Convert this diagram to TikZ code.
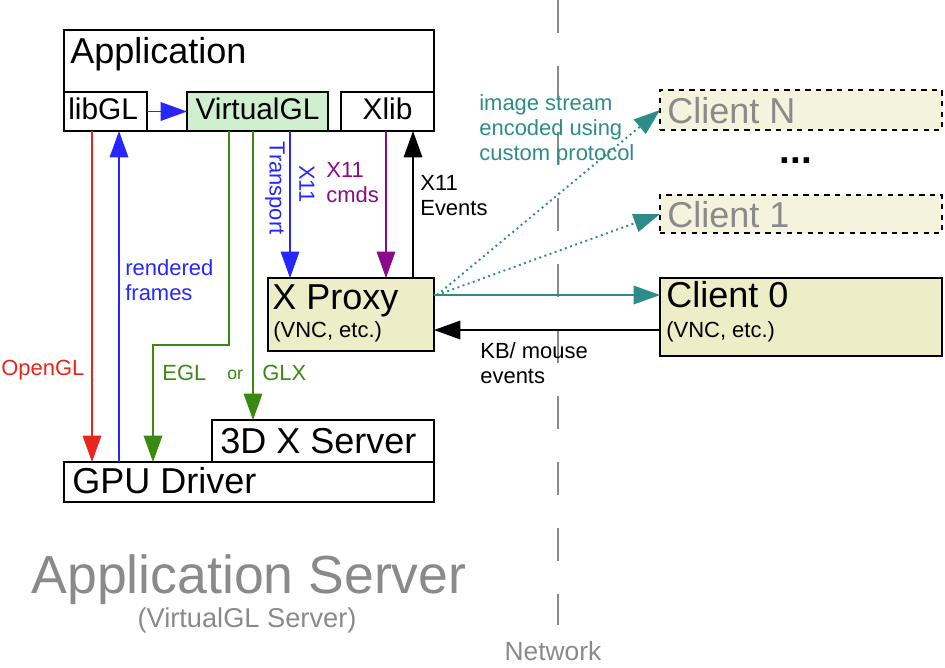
\documentclass[tikz,border=0pt]{standalone}
\usepackage{fontspec}
\setmainfont{Liberation Sans}
\usepackage{xcolor}
\usetikzlibrary{positioning,arrows.meta,calc}
\definecolor{croja}{HTML}{E8261E}
\definecolor{cazul}{HTML}{2626FF}
\definecolor{cverde}{HTML}{3A8A12}
\definecolor{cmorado}{HTML}{8A0A8A}
\definecolor{cteal}{HTML}{2E8C88}
\definecolor{cgris}{HTML}{8A8A8A}
\definecolor{cbeige}{HTML}{EDEDC8}
\definecolor{cbeigec}{HTML}{F4F4DE}
\definecolor{cvgl}{HTML}{CFEFCF}
\tikzset{
  caja/.style={rectangle, draw=black, line width=1.1pt, fill=white, inner sep=0pt, outer sep=0pt, anchor=north west},
  cajab/.style={caja, fill=cbeige},
  cajad/.style={caja, fill=cbeigec, dashed},
  tgrande/.style={anchor=base west, inner sep=0pt, font=\fontsize{20.5}{22}\selectfont},
  tmedio/.style={anchor=base, inner sep=0pt, font=\fontsize{17}{19}\selectfont},
  tvnc/.style={anchor=base west, inner sep=0pt, font=\fontsize{12.5}{14}\selectfont},
  punta/.style={-{Triangle[length=15pt,width=10.5pt]}, line width=1.1pt},
  flecha/.style={punta, draw=black},
  etq/.style={font=\fontsize{12.5}{14.2}\selectfont, align=left, inner sep=0pt, anchor=base west},
}
\begin{document}
\begin{tikzpicture}[x=0.02cm, y=-0.02cm]
  \useasboundingbox (0,0) rectangle (945,667);
  % red de separacion
  \draw[cgris, line width=1.1pt, dash pattern=on 0.66cm off 0.66cm] (558,0) coordinate (redarr) -- (558,625) coordinate (redab);
  \node[font=\fontsize{15}{17}\selectfont, text=cgris, anchor=base, inner sep=0pt] (network) at (553,660) {Network};

  % servidor de aplicacion
  \node[caja, minimum width=7.4cm, minimum height=2.02cm] (app) at (64,30) {};
  \node[tgrande] (apptxt) at ($(app.north west)+(6,33)$) {Application};
  \node[caja, minimum width=1.66cm, minimum height=0.78cm] (libgl) at (64,92) {};
  \node[tmedio, anchor=base west] at ($(libgl.south west)+(4,-11)$) {libGL};
  \node[caja, fill=cvgl, minimum width=2.82cm, minimum height=0.78cm] (vgl) at (187,92) {};
  \node[tmedio] at ($(vgl.south)+(0,-11)$) {VirtualGL};
  \node[caja, minimum width=1.86cm, minimum height=0.78cm] (xlib) at (341,92) {};
  \node[tmedio] at ($(xlib.south)+(0,-11)$) {Xlib};

  \node[cajab, minimum width=3.32cm, minimum height=1.46cm] (xproxy) at (268,278) {};
  \node[tgrande] (xptxt) at ($(xproxy.north west)+(4,31)$) {X Proxy};
  \node[tvnc] at ($(xproxy.north west)+(5,59)$) {(VNC, etc.)};

  \node[caja, minimum width=4.44cm, minimum height=0.84cm] (x3d) at (212,420) {};
  \node[tgrande] at ($(x3d.north west)+(8,33)$) {3D X Server};
  \node[caja, minimum width=7.4cm, minimum height=0.8cm] (gpu) at (64,462) {};
  \node[tgrande] at ($(gpu.north west)+(8,31)$) {GPU Driver};

  % clientes
  \node[cajab, minimum width=5.64cm, minimum height=1.56cm] (client0) at (660,278) {};
  \node[tgrande] at ($(client0.north west)+(6,29)$) {Client 0};
  \node[tvnc] at ($(client0.north west)+(6,59)$) {(VNC, etc.)};
  \node[cajad, minimum width=5.64cm, minimum height=0.76cm] (client1) at (660,195) {};
  \node[tgrande, text=cgris] at ($(client1.north west)+(7,32)$) {Client 1};
  \node[cajad, minimum width=5.64cm, minimum height=0.8cm] (clientn) at (660,90) {};
  \node[tgrande, text=cgris] at ($(clientn.north west)+(7,33)$) {Client N};
  \node[font=\bfseries\fontsize{22}{22}\selectfont, inner sep=0pt, anchor=base] (dots) at (796,163) {...};

  % conexiones
  \draw[punta, cazul] (libgl) -- (vgl);
  \draw[punta, croja] ($(libgl.south west)+(28,0)$) -- ($(gpu.north west)+(28,0)$);
  \draw[punta, cazul] ($(gpu.north west)+(55,0)$) -- ($(libgl.south west)+(55,0)$);
  \draw[punta, cverde] ($(vgl.south west)+(42,0)$) -- ++(0,214) -| ($(gpu.north west)+(89,0)$);
  \draw[punta, cverde] ($(vgl.south west)+(66,0)$) -- ($(x3d.north west)+(41,0)$);
  \draw[punta, cazul] ($(vgl.south west)+(103,0)$) -- ($(xproxy.north west)+(22,0)$);
  \draw[punta, cmorado] ($(xlib.south west)+(45,0)$) -- ($(xproxy.north west)+(118,0)$);
  \draw[flecha] ($(xproxy.north west)+(145,0)$) -- ($(xlib.south west)+(72,0)$);
  \draw[punta, cteal] ($(xproxy.north east)+(0,17)$) -- ($(client0.north west)+(0,17)$);
  \draw[flecha] ($(client0.north west)+(0,52)$) -- ($(xproxy.north east)+(0,52)$);
  \draw[punta, cteal, dotted] ($(xproxy.north east)+(3,17)$) -- (client1.west);
  \draw[punta, cteal, dotted] ($(xproxy.north east)+(3,17)$) -- (clientn.west);

  % etiquetas
  \node[etq, text=croja] (lopengl) at (1,375) {OpenGL};
  \node[etq, text=cazul] (lframes) at (125,300) {rendered\\frames};
  \node[etq, text=cverde] (legl) at (162,380) {EGL};
  \node[etq, text=cverde, font=\fontsize{10}{11}\selectfont] (lor) at (227,379) {or};
  \node[etq, text=cverde] (lglx) at (262,380) {GLX};
  \node[etq, text=cazul, rotate=-90, anchor=center] (ltrans) at (275,188) {Transport};
  \node[etq, text=cazul, rotate=-90, anchor=center] (lx11) at (307,184) {X11};
  \node[etq, text=cmorado] (lcmds) at (326,202) {X11\\cmds};
  \node[etq, text=black] (levents) at (420,215) {X11\\Events};
  \node[etq, text=black] (lkb) at (480,383) {KB/ mouse\\events};
  \node[etq, text=cteal] (lstream) at (479,160) {image stream\\encoded using\\custom protocol};

  \node[font=\fontsize{30.5}{33}\selectfont, text=cgris, anchor=base, inner sep=0pt] (appserver) at (249,593) {Application Server};
  \node[font=\fontsize{15.5}{17}\selectfont, text=cgris, anchor=base, inner sep=0pt] (vglserver) at (247,627) {(VirtualGL Server)};
\end{tikzpicture}
\end{document}
